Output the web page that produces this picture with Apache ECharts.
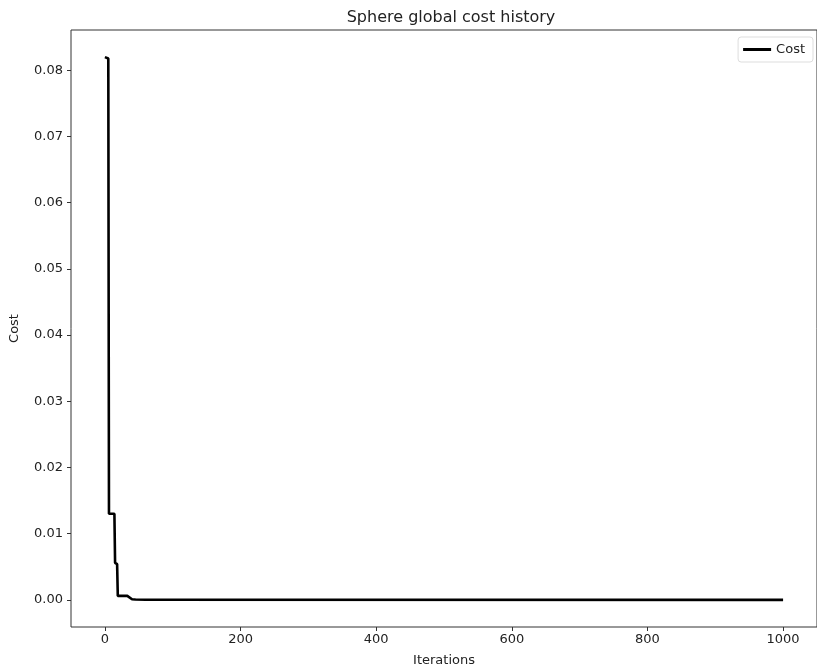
<!DOCTYPE html>
<html>
<head>
<meta charset="utf-8">
<script src="https://cdn.jsdelivr.net/npm/echarts@6/dist/echarts.min.js"></script>
<style>
  html, body { margin: 0; padding: 0; background: #fff; }
  #chart { width: 817px; height: 672px; }
</style>
</head>
<body>
<div id="chart"></div>
<script>
// global best cost at the points where it changes
var iterations = [0, 1, 5, 6, 14, 15, 18, 19, 33, 35, 40, 45, 60, 1000];
var cost = [0.0820, 0.0818, 0.0818, 0.0130, 0.0130, 0.0056, 0.0054, 0.0006, 0.0006, 0.0003, 0.0001, 0.00005, 0.00001, 0.0];
var xTicks = [0, 200, 400, 600, 800, 1000];
var yTicks = [0, 0.01, 0.02, 0.03, 0.04, 0.05, 0.06, 0.07, 0.08];

var points = iterations.map(function (it, i) { return [it, cost[i]]; });

var font = 'DejaVu Sans';
var myChart = echarts.init(document.getElementById('chart'));

var option = {
    animation: false,
    backgroundColor: '#fff',
    title: {
        text: 'Sphere global cost history',
        left: 446,
        textAlign: 'center',
        top: 5,
        textStyle: { fontFamily: font, fontSize: 16, fontWeight: 'normal', color: '#222' }
    },
    legend: {
        data: ['Cost'],
        right: 4,
        top: 37,
        icon: 'rect',
        itemWidth: 28,
        itemHeight: 3,
        itemGap: 5,
        padding: [6, 8, 6, 5],
        borderColor: '#ddd',
        borderWidth: 1,
        borderRadius: 3,
        textStyle: { fontFamily: font, fontSize: 13, color: '#222' }
    },
    grid: {
        left: 71,
        top: 30,
        right: -5,
        bottom: 45,
        show: true,
        borderColor: '#333',
        borderWidth: 1
    },
    xAxis: {
        type: 'value',
        min: -50,
        max: 1050,
        name: 'Iterations',
        nameLocation: 'middle',
        nameGap: 27,
        nameTextStyle: { fontFamily: font, fontSize: 13, color: '#222' },
        axisLine: { show: false, onZero: false },
        splitLine: { show: false },
        axisTick: { show: true, length: 4, customValues: xTicks, lineStyle: { color: '#333' } },
        axisLabel: {
            customValues: xTicks,
            fontFamily: font, fontSize: 13, color: '#222', margin: 6,
            formatter: function (v) { return String(v); }
        }
    },
    yAxis: {
        type: 'value',
        min: -0.0041,
        max: 0.0861,
        name: 'Cost',
        nameLocation: 'middle',
        nameGap: 50,
        nameTextStyle: { fontFamily: font, fontSize: 13, color: '#222' },
        axisLine: { show: false, onZero: false },
        splitLine: { show: false },
        axisTick: { show: true, length: 4, customValues: yTicks, lineStyle: { color: '#333' } },
        axisLabel: {
            customValues: yTicks,
            fontFamily: font, fontSize: 13, color: '#222', margin: 8,
            formatter: function (v) { return v.toFixed(2); }
        }
    },
    series: [
        {
            name: 'Cost',
            type: 'line',
            data: points,
            showSymbol: false,
            symbol: 'none',
            color: '#000',
            lineStyle: { color: '#000', width: 2.6 }
        }
    ]
};

myChart.setOption(option);
</script>
</body>
</html>
